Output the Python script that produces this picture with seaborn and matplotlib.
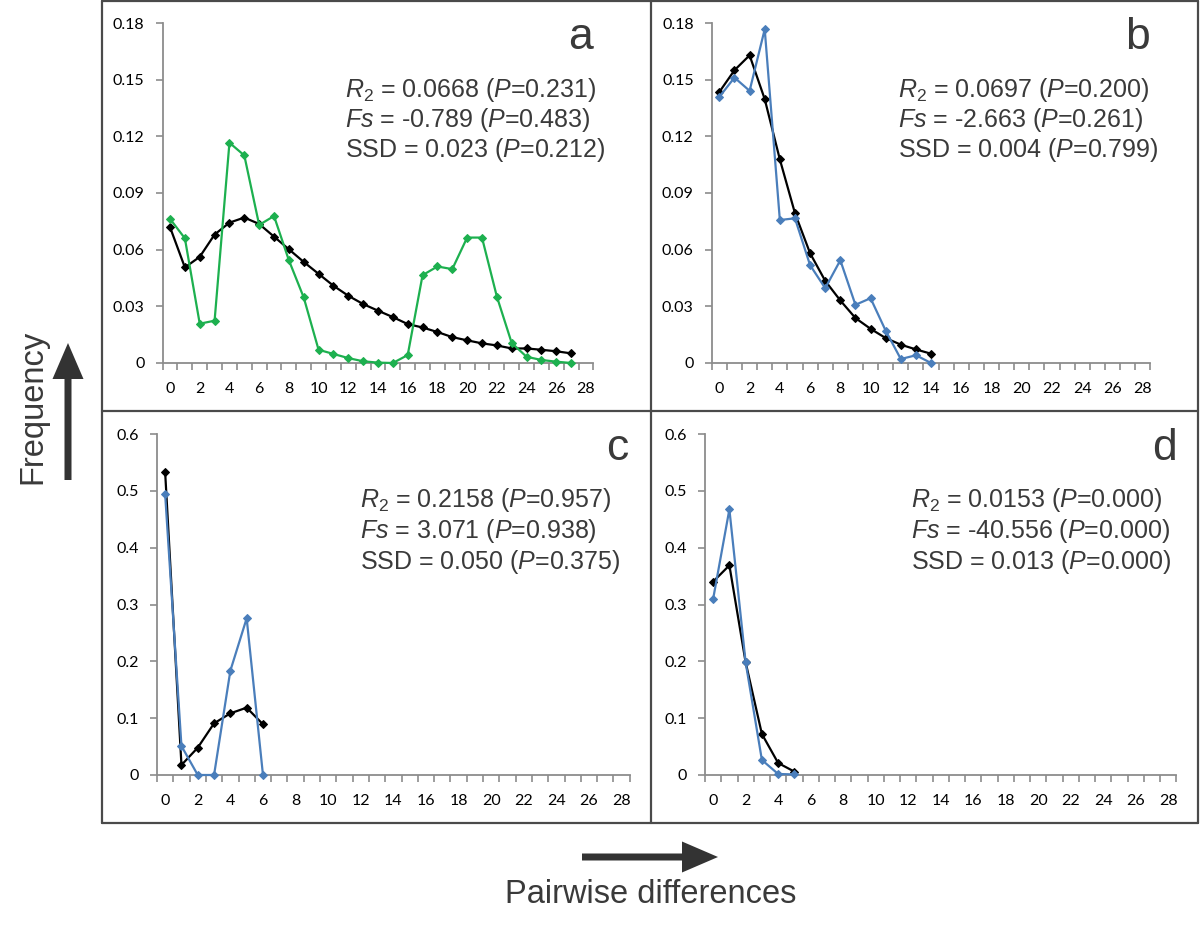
import numpy as np
import pandas as pd
import matplotlib
matplotlib.use("Agg")
import matplotlib.pyplot as plt
import seaborn as sns
from matplotlib.patches import FancyArrow
from matplotlib.lines import Line2D

# ---------------- data ----------------
x_a = list(range(28))
obs_a = [0.0763, 0.0660, 0.0208, 0.0224, 0.1166, 0.1099, 0.0731, 0.0778, 0.0544, 0.0347,
         0.0070, 0.0048, 0.0026, 0.0009, 0.0002, 0.0000, 0.0042, 0.0465, 0.0511, 0.0497,
         0.0664, 0.0664, 0.0352, 0.0106, 0.0033, 0.0016, 0.0007, 0.0000]
exp_a = [0.0719, 0.0506, 0.0562, 0.0680, 0.0743, 0.0770, 0.0736, 0.0669, 0.0602, 0.0535,
         0.0472, 0.0409, 0.0356, 0.0312, 0.0277, 0.0243, 0.0206, 0.0188, 0.0164, 0.0137,
         0.0120, 0.0104, 0.0093, 0.0077, 0.0077, 0.0070, 0.0062, 0.0051]

x_b = list(range(15))
obs_b = [0.1409, 0.1511, 0.1441, 0.1767, 0.0757, 0.0766, 0.0518, 0.0396, 0.0544, 0.0308,
         0.0343, 0.0171, 0.0021, 0.0041, 0.0000]
exp_b = [0.1435, 0.1550, 0.1629, 0.1397, 0.1078, 0.0793, 0.0581, 0.0435, 0.0331, 0.0238,
         0.0181, 0.0132, 0.0097, 0.0072, 0.0049]

x_c = list(range(7))
obs_c = [0.4938, 0.0510, 0.0, 0.0, 0.1836, 0.2757, 0.0]
exp_c = [0.5326, 0.0176, 0.0481, 0.0909, 0.1085, 0.1185, 0.0892]

x_d = list(range(6))
obs_d = [0.3097, 0.4674, 0.1982, 0.0264, 0.0018, 0.0010]
exp_d = [0.3402, 0.3689, 0.1982, 0.0721, 0.0211, 0.0059]

xtick_vals = list(range(0, 29, 2))
yticks_small = [0, 0.03, 0.06, 0.09, 0.12, 0.15, 0.18]
yticklabels_small = ["0", "0.03", "0.06", "0.09", "0.12", "0.15", "0.18"]
yticks_big = [0, 0.1, 0.2, 0.3, 0.4, 0.5, 0.6]
yticklabels_big = ["0", "0.1", "0.2", "0.3", "0.4", "0.5", "0.6"]

panel_letters = ["a", "b", "c", "d"]
stats_a = [r"$R_{2}$ = 0.0668 ($P$=0.231)", r"$Fs$ = -0.789 ($P$=0.483)", r"SSD = 0.023 ($P$=0.212)"]
stats_b = [r"$R_{2}$ = 0.0697 ($P$=0.200)", r"$Fs$ = -2.663 ($P$=0.261)", r"SSD = 0.004 ($P$=0.799)"]
stats_c = [r"$R_{2}$ = 0.2158 ($P$=0.957)", r"$Fs$ = 3.071 ($P$=0.938)", r"SSD = 0.050 ($P$=0.375)"]
stats_d = [r"$R_{2}$ = 0.0153 ($P$=0.000)", r"$Fs$ = -40.556 ($P$=0.000)", r"SSD = 0.013 ($P$=0.000)"]

# ---------------- style ----------------
sns.set_theme(style="white")
plt.rcParams['font.family'] = ['Liberation Sans', 'DejaVu Sans']
plt.rcParams['mathtext.fontset'] = 'custom'
plt.rcParams['mathtext.rm'] = 'Liberation Sans'
plt.rcParams['mathtext.it'] = 'Liberation Sans:italic'
plt.rcParams['mathtext.bf'] = 'Liberation Sans:bold'

W, H = 1200, 926
fig = plt.figure(figsize=(W / 100, H / 100), dpi=100)

GREEN = "#1db04f"
BLUE = "#4a7ebb"
BLACK = "#000000"
AXGREY = "#8c8c8c"
TXT = "#3a3a3a"


def add_ax(left, right, top, bottom):
    return fig.add_axes([left / W, 1 - bottom / H, (right - left) / W, (bottom - top) / H])


def style(ax, yt, ytl):
    ax.set_xlim(-0.5, 28.5)
    ax.set_ylim(0, yt[-1])
    ax.set_xticks(xtick_vals)
    ax.set_xticklabels([str(v) for v in xtick_vals])
    ax.set_xticks(np.arange(-0.5, 28.6, 1.0), minor=True)
    ax.tick_params(axis='x', which='major', length=0, pad=14, labelsize=11.5, labelcolor='black')
    ax.tick_params(axis='x', which='minor', length=5, width=1.2, color=AXGREY, direction='out', bottom=True)
    ax.set_yticks(yt)
    ax.set_yticklabels(ytl)
    ax.tick_params(axis='y', which='major', length=5, width=1.2, color=AXGREY, direction='out',
                   pad=8, labelsize=11.5, labelcolor='black', left=True)
    for lab in ax.get_xticklabels() + ax.get_yticklabels():
        lab.set_fontfamily(['Lato', 'DejaVu Sans'])
    for s in ['top', 'right']:
        ax.spines[s].set_visible(False)
    for s in ['left', 'bottom']:
        ax.spines[s].set_color(AXGREY)
        ax.spines[s].set_linewidth(1.3)
    ax.grid(False)
    ax.set_xlabel("")
    ax.set_ylabel("")


def draw(ax, xs, obs, exp, col):
    df = pd.DataFrame({"x": xs, "obs": obs, "exp": exp})
    sns.lineplot(data=df, x="x", y="exp", ax=ax, color=BLACK, marker="D", markersize=4.5,
                 markeredgecolor=BLACK, linewidth=1.6, clip_on=False, zorder=3)
    sns.lineplot(data=df, x="x", y="obs", ax=ax, color=col, marker="D", markersize=4.5,
                 markeredgecolor=col, linewidth=1.6, clip_on=False, zorder=4)


ax_a = add_ax(162.6, 593.4, 23, 363)
ax_b = add_ax(711.8, 1150.3, 23, 363)
ax_c = add_ax(157, 629.8, 434, 775)
ax_d = add_ax(705, 1176.4, 434, 775)

draw(ax_a, x_a, obs_a, exp_a, GREEN)
draw(ax_b, x_b, obs_b, exp_b, BLUE)
draw(ax_c, x_c, obs_c, exp_c, BLUE)
draw(ax_d, x_d, obs_d, exp_d, BLUE)

style(ax_a, yticks_small, yticklabels_small)
style(ax_b, yticks_small, yticklabels_small)
style(ax_c, yticks_big, yticklabels_big)
style(ax_d, yticks_big, yticklabels_big)


def ftext(x, y, s, **kw):
    fig.text(x / W, 1 - y / H, s, **kw)


# panel letters
letter_pos = [(593, 49), (1150, 49), (628, 460), (1177, 460)]
for (lx, ly), letter in zip(letter_pos, panel_letters):
    ftext(lx, ly, letter, ha='right', va='baseline', fontsize=32, color=TXT)

# statistics
stat_left = [345, 898, 360, 911]
for off, left, lines in zip([0, 0, 411, 411], stat_left, [stats_a, stats_b, stats_c, stats_d]):
    for i, s in enumerate(lines):
        ftext(left, 96.5 + off + 30.5 * i, s, ha='left', va='baseline', fontsize=18, color=TXT)

# frame and dividers
FR = "#4a4a4a"
frame_lines = [
    ([102, 1198], [1, 1]), ([102, 1198], [823, 823]),
    ([102, 102], [1, 823]), ([1198, 1198], [1, 823]),
    ([651, 651], [1, 823]), ([102, 1198], [411, 411]),
]
for xs, ys in frame_lines:
    fig.add_artist(Line2D([x / W for x in xs], [1 - y / H for y in ys],
                          transform=fig.transFigure, color=FR, linewidth=1.6))

# axis titles with arrows
ftext(33, 407, "Frequency", rotation=90, ha='center', va='center', fontsize=23.5, color=TXT)
ftext(651, 903, "Pairwise differences", ha='center', va='baseline', fontsize=23.5, color=TXT)

fig.add_artist(FancyArrow(68 / 100, (H - 480) / 100, 0, 137 / 100, width=0.07, head_width=0.31,
                          head_length=0.36, length_includes_head=True,
                          transform=fig.dpi_scale_trans, color="#333333", linewidth=0))
fig.add_artist(FancyArrow(582 / 100, (H - 857) / 100, 136 / 100, 0, width=0.07, head_width=0.31,
                          head_length=0.36, length_includes_head=True,
                          transform=fig.dpi_scale_trans, color="#333333", linewidth=0))

fig.savefig("out.png", dpi=100, facecolor="white")
